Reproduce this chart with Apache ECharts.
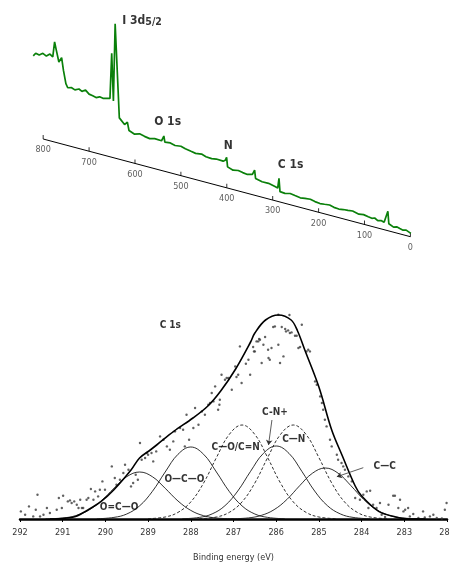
<!DOCTYPE html>
<html><head><meta charset="utf-8">
<script src="https://cdn.jsdelivr.net/npm/echarts@6/dist/echarts.min.js"></script>
<style>html,body{margin:0;padding:0;background:#fff}#c{width:450px;height:563px}</style>
</head><body><div id="c"></div>
<script>
// ---------- Survey spectrum (top) ----------
const surveyTicks = [0, 100, 200, 300, 400, 500, 600, 700, 800];
const surveyBE = [821.6,816.3,808.6,800.7,793,785.3,779.1,775.1,771.4,765.8,759.8,755.8,750.5,746.5,738,730.9,722,715.6,707.7,700,692,684.8,677,669.8,662,654.5,650.7,647,643.2,634.1,622.7,616.6,613,601.6,590,579.3,568,557.1,542.2,537.1,534.9,523,512.7,500,490.3,478,467.9,455,445.4,433,422.9,407.9,403.4,400.4,398.3,386.3,375,365.3,355,344.2,339.4,337.3,323.2,309.1,295,289.1,286.3,284.1,273.3,262,251.5,240,229.8,218,208,197,187.1,176,166.7,156,146.3,136,125.9,122.4,112.2,102,91.8,84,77.9,71.1,64,57.3,49.1,47,36.7,30,23.1,16,9.3,-1];
const surveyIntensity = [80.5,83.8,83,85.6,83.8,86.7,84.7,100.1,92.3,81.2,86.3,74,61.4,57.8,58.9,57.6,59.5,57.9,60.2,57.1,56.4,55.5,57.2,56.6,57.4,58.4,103.9,56.6,134.4,41.4,36.1,39.2,31.3,29.2,30.8,29.6,28.7,30,29.7,35.1,29.2,29.9,28.6,29.4,28,27,26.2,27.1,25.6,25.2,26,25.7,27.1,30.4,21.2,19.3,20.4,19.5,18.9,20.2,25.2,17.1,15.5,15.6,14.1,13.3,23.4,10.4,10,11.2,10.4,9.6,10.3,10.8,9.7,9.1,9.6,10.2,9,8.6,9.3,9.8,10.3,12.3,8.8,9.6,8.7,8.1,9.2,7.4,8.4,7.5,19.5,7.2,5.1,6.2,5.3,4.6,5.4,3.4];
const surveyPeakLabels = ['I 3d5/2', 'O 1s', 'N', 'C 1s'];
const surveyPeakLabelBE = [584.4, 528.9, 396.8, 260.9];
const surveyPeakLabelY = [242.5, 141, 117, 97.7];

// ---------- C 1s high resolution (bottom) ----------
const c1sTicks = [282,283,284,285,286,287,288,289,290,291,292];
const c1sDots = [
[291.98,7.6],[291.88,4.3],[291.79,12.6],[291.69,2.6],[291.63,9.3],[291.59,24.3],[291.53,2.6],[291.45,4.3],[291.37,11],[291.30,6],[291.14,9.3],[291.09,21],[291.02,11],[290.99,23.3],[290.88,17.6],[290.83,18.6],[290.79,16],[290.73,17.6],[290.67,14.3],[290.63,11],[290.59,19.3],[290.55,11],[290.52,11],[290.44,19.3],[290.40,21],[290.34,30],[290.28,19.3],[290.24,27.6],[290.17,22.6],[290.13,29.3],[290.07,37.6],[290.01,29.3],[289.85,52.6],[289.78,41],[289.74,34.3],[289.66,39.3],[289.58,46],[289.54,54.3],[289.46,49.3],[289.40,32.6],[289.35,36],[289.29,44.3],[289.24,39.3],[289.19,76],[289.15,59.3],[289.07,61],[289.03,66],
[289.0,64.3],[288.92,66],[288.88,57.6],[288.81,67.6],[288.72,82.6],[288.64,79.3],[288.56,72.6],[288.49,69.3],[288.41,77.6],[288.37,87.6],[288.25,91],[288.18,89.3],[288.14,72.6],[288.10,104.3],[288.04,79.3],[287.94,91],[287.90,111],[287.82,94.3],[287.74,107.6],[287.67,104.3],[287.59,114.3],[287.55,116],[287.51,126],[287.47,117.6],[287.43,132.6],[287.36,109.3],[287.33,114.3],[287.32,119.3],[287.28,144.3],[287.20,139.3],[287.16,141],[287.12,141],[287.04,129.3],[286.96,152.6],[286.93,142],[286.89,144.3],[286.85,172.6],[286.81,136],[286.71,155.3],[286.65,159.3],[286.61,144.3],[286.54,172],[286.52,167.6],[286.50,167.6],[286.46,177.6],[286.42,177.6],[286.40,180],[286.38,179.3],[286.34,156],[286.30,174.3],[286.26,182],[286.19,169.3],[286.18,161],[286.15,159.3],[286.11,171],[286.07,192],[286.03,192.6],[285.95,204.3],[285.95,174.3],[285.91,156],[285.87,192],[285.83,162.6],[285.79,190],[285.77,187.6],[285.72,188.6],[285.69,204],[285.68,186],[285.64,186.6],[285.56,183.3],[285.52,183.3],[285.48,171],[285.44,172],[285.40,194.3],[285.29,167.6],[285.25,169.3],[285.21,167.6],[285.09,137.6],[285.05,134.3],[284.97,122.6],[284.93,116],[284.90,109.3],[284.86,99.3],[284.82,92.6],[284.74,79.3],[284.70,72.6],[284.58,64.3],[284.55,59.3],[284.47,56],[284.43,52.6],[284.39,49.3],[284.31,42.6],[284.23,37.6],[284.15,21],
[284.04,19.3],[283.96,24.3],[283.88,27.6],[283.80,28.3],[283.84,11],[283.73,14.3],[283.65,11],[283.57,16],[283.53,4.3],[283.45,2],[283.37,14.3],[283.26,23.3],[283.22,23.3],[283.14,11],[283.10,19.3],[283.02,7.6],[282.98,9.3],[282.91,11],[282.87,2.6],[282.79,5],[282.67,1],[282.56,7.6],[282.52,1.6],[282.40,2.6],[282.32,4.3],[282.24,1],[282.12,0.5],[282.05,9.3],[282.01,16]
];
const c1sEnvelope = [[291.3,0],[290.95,0.8],[290.7,2.6],[290.4,9.3],[290.1,17.6],[289.8,29.3],[289.4,49],[289.2,61],[288.95,69],[288.8,74],[288.4,87.6],[287.95,101],[287.6,113],[287.3,128],[286.95,150],[286.6,177],[286.5,186],[286.25,199],[285.95,204],[285.65,199],[285.5,188],[285.33,169],[285.0,132],[284.7,89],[284.45,63],[284.15,33],[284.0,23],[283.6,7.6],[283.2,2],[282.95,0.3],[282.5,0]];
const compOeqCO = [[291.4,0.2],[291.0,1.0],[290.7,3.3],[290.4,8.6],[290.1,18.0],[289.8,30.7],[289.5,42.3],[289.2,47],[288.9,42.3],[288.6,30.7],[288.3,18.0],[288.0,8.6],[287.7,3.3],[287.4,1.0],[287.0,0.2]];
const compOCO = [[290.2,0.2],[289.8,1.6],[289.5,5.0],[289.2,13.1],[288.9,27.6],[288.6,47.0],[288.3,64.7],[288.0,72],[287.7,64.7],[287.4,47.0],[287.1,27.6],[286.8,13.1],[286.5,5.0],[286.2,1.6],[285.8,0.2]];
const compCO = [[289.0,0.3],[288.6,2.0],[288.3,6.6],[288.0,17.1],[287.7,36.0],[287.4,61.4],[287.1,84.5],[286.8,94],[286.5,84.5],[286.2,61.4],[285.9,36.0],[285.6,17.1],[285.3,6.6],[285.0,2.0],[284.6,0.3]];
const compCNplus = [[288.2,0.2],[287.8,1.6],[287.5,5.1],[287.2,13.3],[286.9,28.0],[286.6,47.7],[286.3,65.6],[286.0,73],[285.7,65.6],[285.4,47.7],[285.1,28.0],[284.8,13.3],[284.5,5.1],[284.2,1.6],[283.8,0.2]];
const compCN = [[287.8,0.3],[287.4,2.0],[287.1,6.6],[286.8,17.1],[286.5,36.0],[286.2,61.4],[285.9,84.5],[285.6,94],[285.3,84.5],[285.0,61.4],[284.7,36.0],[284.4,17.1],[284.1,6.6],[283.8,2.0],[283.4,0.3]];
const compCC = [[287.05,0.2],[286.65,1.1],[286.35,3.6],[286.05,9.3],[285.75,19.5],[285.45,33.3],[285.15,45.8],[284.85,51],[284.55,45.8],[284.25,33.3],[283.95,19.5],[283.65,9.3],[283.35,3.6],[283.05,1.1],[282.65,0.2]];
const c1sLabels = ['C 1s', 'O=C—O', 'O—C—O', 'C—O/C=N', 'C-N+', 'C—N', 'C—C'];
const c1sLabelBE = [288.48, 289.68, 288.15, 286.95, 286.03, 285.59, 283.46];
const c1sLabelY = [193.7, 12, 39.3, 71.2, 106.5, 80, 52.3];
const arrowFrom = [[286.10, 99], [283.96, 51.3]];
const arrowTo = [[286.18, 74], [284.58, 42.3]];

// ---------- presentation ----------
const FONT = "'DejaVu Sans Condensed','DejaVu Sans',sans-serif";
const TILT_HI = 124, TILT_LO = 26.3; // baseline of the tilted survey axis at 800 and 0 eV
function base(be) { return TILT_LO + (TILT_HI - TILT_LO) * be / 800; }

const surveyData = surveyBE.map((b, i) => [b, base(b) + surveyIntensity[i]]);
const tickData = surveyTicks.map(t => [t, base(t)]);
const peakLabelData = surveyPeakLabels.map((n, i) => ({ name: n, value: [surveyPeakLabelBE[i], surveyPeakLabelY[i]] }));
const c1sLabelData = c1sLabels.map((n, i) => ({ name: n, value: [c1sLabelBE[i], c1sLabelY[i]] }));

function comp(data, dashed) {
  return { type: 'line', xAxisIndex: 1, yAxisIndex: 1, data: data, smooth: 0.4, showSymbol: false, symbol: 'none',
    lineStyle: { color: '#1a1a1a', width: 0.9, type: dashed ? [3, 2] : 'solid' }, z: 3 };
}

const chart = echarts.init(document.getElementById('c'), null, { renderer: 'canvas' });
chart.setOption({
  animation: false,
  backgroundColor: '#fff',
  textStyle: { fontFamily: FONT },
  grid: [
    { left: 29.4, right: 35, top: 0, height: 263, containLabel: false, outerBoundsMode: 'none' },
    { left: 20, right: 3, top: 300, height: 219, containLabel: false, outerBoundsMode: 'none' }
  ],
  xAxis: [
    { gridIndex: 0, type: 'value', min: -10, max: 830, inverse: true, show: false },
    { gridIndex: 1, type: 'value', min: 282, max: 292, interval: 1, inverse: true,
      axisLine: { lineStyle: { color: '#000', width: 2.5 } },
      axisTick: { show: true, length: 3, lineStyle: { color: '#000', width: 1 } },
      axisLabel: { fontSize: 9, color: '#333', margin: 9, fontFamily: FONT, showMaxLabel: true, showMinLabel: true, hideOverlap: false },
      splitLine: { show: false },
      name: 'Binding energy (eV)', nameLocation: 'middle', nameGap: 34,
      nameTextStyle: { fontSize: 9, color: '#333', fontFamily: FONT } }
  ],
  yAxis: [
    { gridIndex: 0, type: 'value', min: 0, max: 263, show: false },
    { gridIndex: 1, type: 'value', min: 0, max: 219, show: false }
  ],
  series: [
    { type: 'line', xAxisIndex: 0, yAxisIndex: 0, data: surveyData, showSymbol: false, symbol: 'none',
      lineStyle: { color: '#0a800a', width: 1.7 }, z: 3 },
    { type: 'line', xAxisIndex: 0, yAxisIndex: 0, data: [tickData[0], tickData[tickData.length - 1]], showSymbol: false, symbol: 'none',
      lineStyle: { color: '#000', width: 1 }, z: 2 },
    { type: 'scatter', xAxisIndex: 0, yAxisIndex: 0, data: tickData, symbol: 'rect', symbolSize: [1, 4], symbolOffset: [0, -2],
      itemStyle: { color: '#000' }, z: 2 },
    { type: 'scatter', xAxisIndex: 0, yAxisIndex: 0, data: tickData, symbolSize: 1, itemStyle: { color: 'rgba(0,0,0,0)' },
      label: { show: true, position: 'bottom', distance: 6, fontSize: 9, color: '#333', fontFamily: FONT,
        formatter: p => String(p.value[0]) } },
    { type: 'scatter', xAxisIndex: 0, yAxisIndex: 0, data: peakLabelData, symbolSize: 1, itemStyle: { color: 'rgba(0,0,0,0)' },
      label: { show: true, position: 'inside', fontFamily: FONT, fontWeight: 'bold', fontSize: 12, color: '#000',
        formatter: p => p.name === 'I 3d5/2' ? '{a|I 3d}{b|5/2}' : p.name,
        rich: { a: { fontSize: 12, fontWeight: 'bold', fontFamily: FONT, color: '#000' },
                b: { fontSize: 10.5, fontWeight: 'bold', fontFamily: FONT, color: '#000', padding: [3, 0, 0, 0] } } } },
    { type: 'scatter', xAxisIndex: 1, yAxisIndex: 1, data: c1sDots, symbol: 'circle', symbolSize: 2.4,
      itemStyle: { color: '#3a3a3a' }, z: 2 },
    comp(compOeqCO, false),
    comp(compOCO, false),
    comp(compCO, true),
    comp(compCNplus, false),
    comp(compCN, true),
    comp(compCC, false),
    { type: 'line', xAxisIndex: 1, yAxisIndex: 1, data: c1sEnvelope, smooth: 0.35, showSymbol: false, symbol: 'none',
      lineStyle: { color: '#000', width: 1.6 }, z: 4 },
    { type: 'scatter', xAxisIndex: 1, yAxisIndex: 1, data: c1sLabelData, symbolSize: 1, itemStyle: { color: 'rgba(0,0,0,0)' },
      label: { show: true, position: 'inside', fontFamily: FONT, fontWeight: 'bold', fontSize: 10, color: '#000',
        formatter: p => p.name }, z: 6 },
    { type: 'lines', coordinateSystem: 'cartesian2d', xAxisIndex: 1, yAxisIndex: 1,
      data: arrowFrom.map((f, i) => ({ coords: [f, arrowTo[i]] })),
      symbol: ['none', 'arrow'], symbolSize: 5,
      lineStyle: { color: '#333', width: 0.8, opacity: 1 }, z: 5 }
  ]
});
</script></body></html>
